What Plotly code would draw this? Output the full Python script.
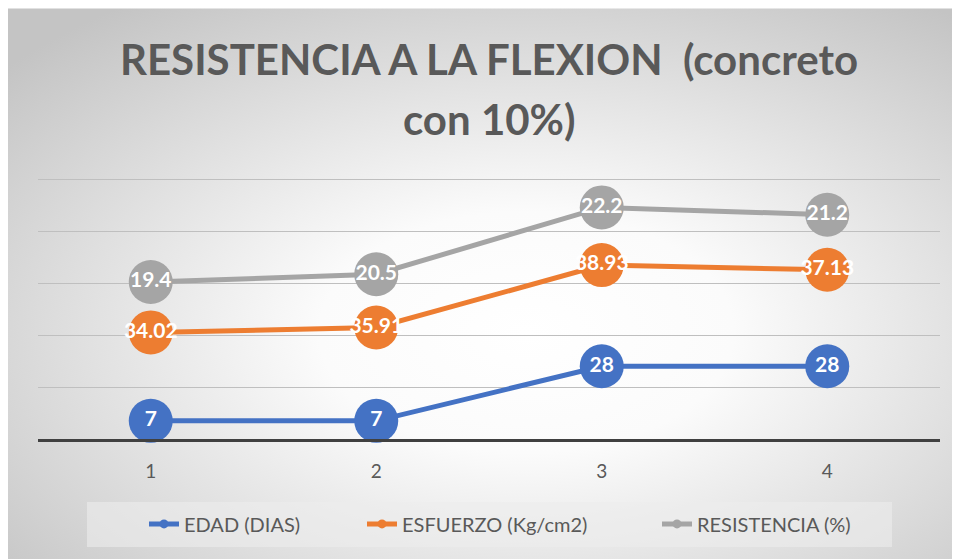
import base64
import plotly.graph_objects as go

# ---- data ----
categories = [1, 2, 3, 4]
tick_labels = ["1", "2", "3", "4"]
series_names = ["EDAD (DIAS)", "ESFUERZO (Kg/cm2)", "RESISTENCIA (%)"]
edad = [7, 7, 28, 28]
esfuerzo = [34.02, 35.91, 38.93, 37.13]
resistencia = [19.4, 20.5, 22.2, 21.2]

colors = ["#4472C4", "#ED7D31", "#A5A5A5"]
FONT = "Lato, 'Open Sans', sans-serif"
TXT = "#595959"

W, H = 960, 559
OFF = 8  # page body margin shifts the figure by 8px
YMAX = 102
PX_PER_UNIT = 2.6
# plot area in screen pixels: x 38..940, bottom at 439 (value 0), 100 at 179
L, R = 38 - OFF, W - (940 - OFF)
B = H - (439 - OFF)
T = (439 - OFF) - PX_PER_UNIT * YMAX
pw, ph = W - L - R, H - T - B


def px_x(px):
    return (px - OFF - L) / pw


def px_y(py):
    return (H - B - (py - OFF)) / ph


svg = (
    '<svg xmlns="http://www.w3.org/2000/svg" width="960" height="559" '
    'preserveAspectRatio="none" viewBox="0 0 960 559">'
    '<defs><radialGradient id="g" cx="0.54" cy="0.58" r="0.72">'
    '<stop offset="0" stop-color="#ffffff"/>'
    '<stop offset="0.3" stop-color="#fbfbfb"/>'
    '<stop offset="1" stop-color="#c4c4c4"/>'
    '</radialGradient></defs>'
    '<rect width="960" height="559" fill="url(#g)"/></svg>'
)
bg_src = "data:image/svg+xml;base64," + base64.b64encode(svg.encode()).decode()

fig = go.Figure()

for name, vals, col in zip(series_names, [edad, esfuerzo, resistencia], colors):
    fig.add_trace(go.Scatter(
        x=categories, y=vals, name=name,
        stackgroup="one", fill="none",
        mode="lines+markers+text",
        line=dict(color=col, width=5),
        marker=dict(color=col, size=44),
        text=[str(v) for v in vals],
        textposition="middle center",
        textfont=dict(family=FONT, size=21, color="white", weight="bold"),
        cliponaxis=False,
        showlegend=False,
        hoverinfo="skip",
    ))

legend_ids = ["legend", "legend2", "legend3"]
for name, col, lid in zip(series_names, colors, legend_ids):
    fig.add_trace(go.Scatter(
        x=[None], y=[None], name=name, mode="lines+markers",
        line=dict(color=col, width=5), marker=dict(color=col, size=9),
        legend=lid,
    ))

fig.add_layout_image(dict(
    source=bg_src, xref="paper", yref="paper",
    x=-L / pw, y=1 + T / ph, sizex=W / pw, sizey=H / ph,
    xanchor="left", yanchor="top", sizing="stretch", layer="below",
))

fig.add_shape(type="rect", xref="paper", yref="paper",
              x0=px_x(87), x1=px_x(892), y0=px_y(547), y1=px_y(502),
              line=dict(width=0), fillcolor="rgba(236,236,236,0.6)", layer="below")

text_starts = [187, 405, 700]
leg_common = dict(orientation="h", xanchor="left", yanchor="middle",
                  bgcolor="rgba(0,0,0,0)",
                  font=dict(family=FONT, size=20, color=TXT))
legends = {}
for lid, xs in zip(legend_ids, text_starts):
    legends[lid] = dict(leg_common, x=px_x(xs - 43), y=px_y(524))

fig.update_layout(
    width=W, height=H,
    margin=dict(l=L, r=R, t=T, b=B),
    paper_bgcolor="white",
    plot_bgcolor="rgba(0,0,0,0)",
    font=dict(family=FONT, color=TXT),
    title=dict(
        text="RESISTENCIA A LA FLEXION  (concreto",
        x=(489 - OFF) / W, xanchor="center", xref="container",
        y=1 - (60 - OFF) / H, yanchor="middle", yref="container",
        font=dict(family=FONT, size=42, color=TXT, weight="bold"),
    ),
    annotations=[dict(
        text="con 10%)", xref="paper", yref="paper",
        x=px_x(489), y=px_y(119), xanchor="center", yanchor="middle",
        showarrow=False,
        font=dict(family=FONT, size=42, color=TXT, weight="bold"),
    )],
    xaxis=dict(
        range=[0.5, 4.5], tickvals=categories, ticktext=tick_labels,
        showgrid=False, zeroline=False,
        showline=True, linecolor="#404040", linewidth=3,
        ticks="", ticklabelstandoff=13,
        tickfont=dict(family=FONT, size=19, color=TXT),
    ),
    yaxis=dict(
        range=[0, YMAX], tickvals=[20, 40, 60, 80, 100], showticklabels=False,
        showgrid=True, gridcolor="#bfbfbf", gridwidth=1.3,
        zeroline=False, showline=False,
    ),
    showlegend=True,
    **legends,
)

fig.write_html("out.html")
